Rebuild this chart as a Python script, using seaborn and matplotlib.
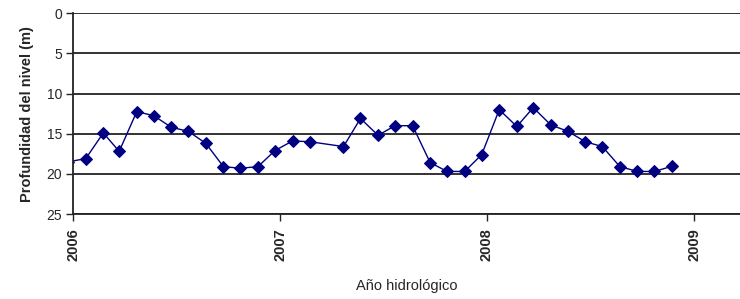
import matplotlib
matplotlib.use("Agg")
import matplotlib.pyplot as plt
import matplotlib.dates as mdates
import seaborn as sns
import pandas as pd

dates = ["2005-12-23",
         "2006-01-23", "2006-02-23", "2006-03-23", "2006-04-23", "2006-05-23", "2006-06-23",
         "2006-07-23", "2006-08-23", "2006-09-23", "2006-10-23", "2006-11-23", "2006-12-23",
         "2007-01-23", "2007-02-23", "2007-04-23", "2007-05-23", "2007-06-23",
         "2007-07-23", "2007-08-23", "2007-09-23", "2007-10-23", "2007-11-23", "2007-12-23",
         "2008-01-23", "2008-02-23", "2008-03-23", "2008-04-23", "2008-05-23", "2008-06-23",
         "2008-07-23", "2008-08-23", "2008-09-23", "2008-10-23", "2008-11-23"]
depth = [18.5,
         18.1, 14.9, 17.2, 12.25, 12.75, 14.2,
         14.7, 16.2, 19.1, 19.3, 19.1, 17.1,
         15.9, 16.0, 16.6, 13.1, 15.2,
         14.0, 14.0, 18.6, 19.7, 19.7, 17.6,
         12.0, 14.1, 11.75, 13.9, 14.7, 16.0,
         16.6, 19.1, 19.7, 19.7, 19.05]
y_ticks = [0, 5, 10, 15, 20, 25]
x_label = "Año hidrológico"
y_label = "Profundidad del nivel (m)"

df = pd.DataFrame({"fecha": pd.to_datetime(dates), "prof": depth})

sns.set_style("white")
plt.rcParams["font.family"] = ["Liberation Sans", "DejaVu Sans"]

fig = plt.figure(figsize=(7.40, 2.99), dpi=100)
ax = fig.add_axes([73.3 / 740, 85 / 299, 1 - 73.3 / 740, (214 - 13.3) / 299])

sns.lineplot(data=df, x="fecha", y="prof", ax=ax, color="#000080",
             marker="D", markersize=6.5, markeredgecolor="#000080",
             linewidth=1.0)

ax.set_ylim(25, 0)
ax.set_yticks(y_ticks)
ax.set_xlim(pd.Timestamp("2006-01-01"), pd.Timestamp("2009-03-23"))
ax.xaxis.set_major_locator(mdates.YearLocator())
ax.xaxis.set_major_formatter(mdates.DateFormatter("%Y"))

ax.yaxis.grid(True, color="#222222", linewidth=1.3)
ax.set_axisbelow(True)

for side in ["top", "right"]:
    ax.spines[side].set_visible(False)
for side in ["left", "bottom"]:
    ax.spines[side].set_color("#222222")
    ax.spines[side].set_linewidth(1.3)

ax.tick_params(axis="y", which="major", direction="out", length=5, width=1,
               color="#222222", labelsize=10, pad=3, left=True)
ax.tick_params(axis="x", which="major", direction="out", length=5, width=1,
               color="#222222", labelsize=10.5, pad=5, bottom=True)
for lab in ax.get_xticklabels():
    lab.set_rotation(90)
    lab.set_fontweight("bold")

ax.set_xlabel(x_label, fontsize=10.5, labelpad=13)
ax.set_ylabel(y_label, fontsize=10.5, fontweight="bold", labelpad=9)

fig.savefig("out.png", dpi=100)
